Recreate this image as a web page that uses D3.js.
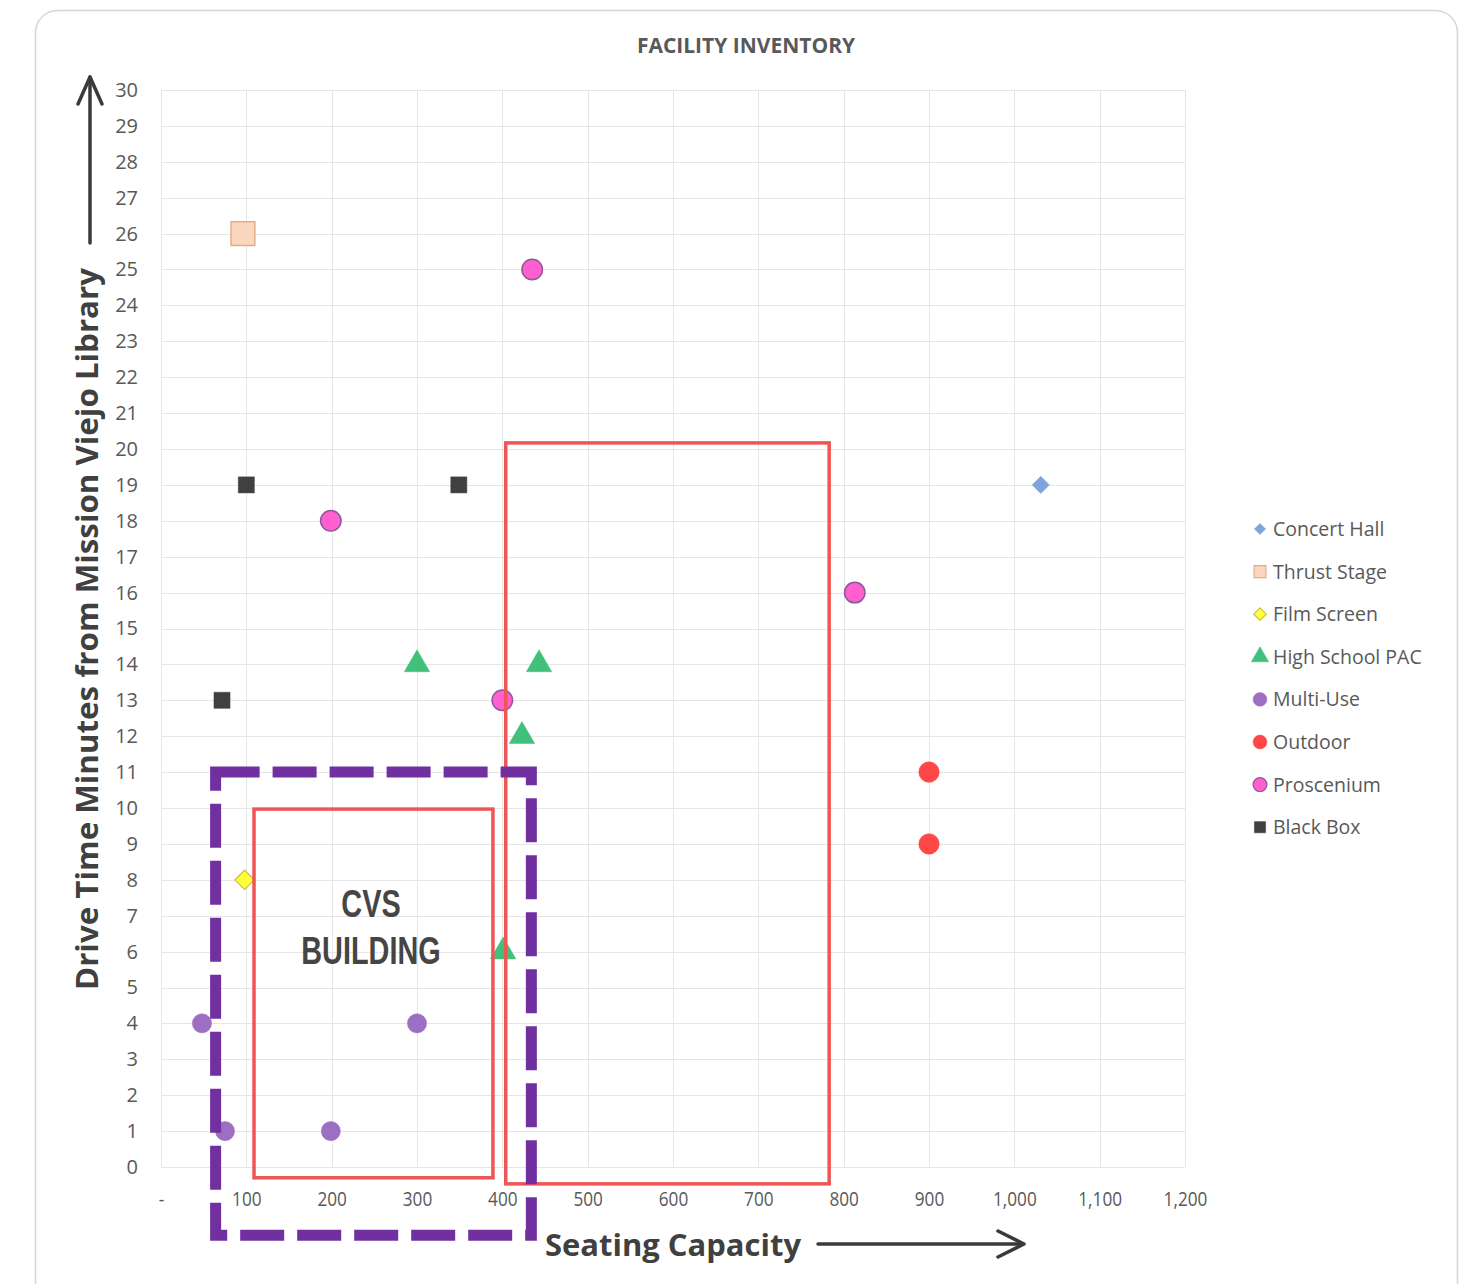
<!DOCTYPE html>
<html>
<head>
<meta charset="utf-8">
<script src="https://cdn.jsdelivr.net/npm/d3@7"></script>
<style>
  html, body { margin: 0; padding: 0; background: #fff; }
  svg { display: block; }
  text { font-family: "Open Sans", "Noto Sans", sans-serif; }
  text.zone-label { font-family: "Liberation Sans", Arial, sans-serif; }
</style>
</head>
<body>
<svg id="chart" width="1460" height="1284"></svg>
<script>
// ---- data ----
const categories = ["Concert Hall", "Thrust Stage", "Film Screen", "High School PAC",
                    "Multi-Use", "Outdoor", "Proscenium", "Black Box"];

// [seating capacity, drive minutes]
const concertHall   = [[1031, 19]];
const thrustStage   = [[96, 26]];
const filmScreen    = [[98, 8]];
const highSchoolPAC = [[300, 14], [443, 14], [423, 12], [401, 6]];
const multiUse      = [[48, 4], [75, 1], [199, 1], [300, 4]];
const outdoor       = [[900, 11], [900, 9]];
const proscenium    = [[435, 25], [199, 18], [813, 16], [400, 13]];
const blackBox      = [[100, 19], [349, 19], [71.5, 13]];

const xTicks = [0, 100, 200, 300, 400, 500, 600, 700, 800, 900, 1000, 1100, 1200];
const xTickLabels = ["-", "100", "200", "300", "400", "500", "600", "700", "800", "900", "1,000", "1,100", "1,200"];
const yTicks = d3.range(0, 31);

// highlight zones in data units: [x0, x1, y0, y1]
const zoneLarge = [404, 783, -0.47, 20.17];
const zoneSmall = [109, 389, -0.3, 9.97];
const zoneCVS   = [64, 434, -1.9, 11.0];

// ---- layout ----
const svg = d3.select("#chart");
const plot = { left: 161, right: 1185, top: 90, bottom: 1167 };

const x = d3.scaleLinear().domain([0, 1200]).range([plot.left, plot.right]);
const y = d3.scaleLinear().domain([0, 30]).range([plot.bottom, plot.top]);

const textGray = "#595959";

// outer frame
svg.append("rect")
  .attr("x", 35.5).attr("y", 10.5)
  .attr("width", 1422).attr("height", 1320)
  .attr("rx", 22)
  .attr("fill", "#fff")
  .attr("stroke", "#d6d6d6")
  .attr("stroke-width", 1.5);

// title
svg.append("text")
  .attr("x", 746).attr("y", 53)
  .attr("text-anchor", "middle")
  .attr("font-size", 21).attr("font-weight", 700)
  .attr("fill", textGray)
  .text("FACILITY INVENTORY");

// gridlines
const grid = svg.append("g").attr("stroke", "#e6e6e6").attr("stroke-width", 1);
grid.selectAll("line.h").data(yTicks).join("line")
  .attr("x1", plot.left).attr("x2", plot.right)
  .attr("y1", d => Math.round(y(d)) + 0.5).attr("y2", d => Math.round(y(d)) + 0.5);
grid.selectAll("line.v").data(xTicks).join("line")
  .attr("x1", d => Math.round(x(d)) + 0.5).attr("x2", d => Math.round(x(d)) + 0.5)
  .attr("y1", plot.top).attr("y2", plot.bottom);

// y axis labels
const yAxis = d3.axisLeft(y).tickValues(yTicks).tickSize(0).tickPadding(0);
const gy = svg.append("g").attr("transform", `translate(${plot.left - 23},0)`).call(yAxis);
gy.select(".domain").remove();
gy.selectAll("text")
  .attr("font-family", "Open Sans, sans-serif")
  .attr("font-size", 20).attr("fill", textGray);

// x axis labels, slightly condensed around each tick
const xAxis = d3.axisBottom(x).tickValues(xTicks).tickFormat((d, i) => xTickLabels[i]).tickSize(0).tickPadding(0);
const gx = svg.append("g").attr("transform", `translate(0,${plot.bottom + 39})`).call(xAxis);
gx.select(".domain").remove();
gx.selectAll("text")
  .attr("font-family", "Open Sans, sans-serif")
  .attr("font-size", 20).attr("fill", textGray)
  .attr("dy", 0).attr("x", 0)
  .attr("transform", "scale(0.86,1)");

// axis titles
svg.append("text")
  .attr("transform", `translate(98,629) rotate(-90)`)
  .attr("text-anchor", "middle")
  .attr("font-size", 31).attr("font-weight", 700)
  .attr("fill", "#404040")
  .attr("textLength", 722).attr("lengthAdjust", "spacingAndGlyphs")
  .text("Drive Time Minutes from Mission Viejo Library");

svg.append("text")
  .attr("x", 673).attr("y", 1256)
  .attr("text-anchor", "middle")
  .attr("font-size", 31).attr("font-weight", 700)
  .attr("fill", "#404040")
  .attr("textLength", 256).attr("lengthAdjust", "spacingAndGlyphs")
  .text("Seating Capacity");

// axis arrows
const arrows = svg.append("g").attr("stroke", "#3a3a3a").attr("stroke-width", 3.5)
  .attr("fill", "none").attr("stroke-linecap", "round").attr("stroke-linejoin", "round");
arrows.append("line").attr("x1", 90).attr("y1", 243).attr("x2", 90).attr("y2", 77);
arrows.append("polyline").attr("points", "78,104 90,77 102,104");
arrows.append("line").attr("x1", 818).attr("y1", 1244).attr("x2", 1023).attr("y2", 1244);
arrows.append("polyline").attr("points", "998,1231 1024,1244 998,1257");

// ---- series ----
const series = [
  { name: "Concert Hall",    data: concertHall,   shape: d3.symbolDiamond2, size: 190, fill: "#7fa3dc", stroke: "#7fa3dc", sw: 0.5 },
  { name: "Thrust Stage",    data: thrustStage,   shape: d3.symbolSquare2,  size: 720, fill: "#fbd7bf", stroke: "#e4ad87", sw: 1.5 },
  { name: "Film Screen",     data: filmScreen,    shape: d3.symbolDiamond2, size: 240, fill: "#ffff3a", stroke: "#c9c13a", sw: 1.2 },
  { name: "High School PAC", data: highSchoolPAC, shape: d3.symbolTriangle, size: 280, fill: "#41c07b", stroke: "#41c07b", sw: 0.5 },
  { name: "Multi-Use",       data: multiUse,      shape: d3.symbolCircle,   size: 290, fill: "#9d6fc2", stroke: "#9d6fc2", sw: 0.5 },
  { name: "Outdoor",         data: outdoor,       shape: d3.symbolCircle,   size: 330, fill: "#ff4747", stroke: "#ff4747", sw: 0.5 },
  { name: "Proscenium",      data: proscenium,    shape: d3.symbolCircle,   size: 330, fill: "#ff5fcf", stroke: "#8c5a98", sw: 1.5 },
  { name: "Black Box",       data: blackBox,      shape: d3.symbolSquare2,  size: 330, fill: "#404040", stroke: "#404040", sw: 0.5 }
];

const markers = svg.append("g");
series.forEach(s => {
  markers.append("g").selectAll("path").data(s.data).join("path")
    .attr("transform", d => `translate(${x(d[0])},${y(d[1])})`)
    .attr("d", d3.symbol(s.shape, s.size))
    .attr("fill", s.fill)
    .attr("stroke", s.stroke)
    .attr("stroke-width", s.sw);
});

// ---- highlight zones ----
function zoneRect(z) {
  return { x: x(z[0]), y: y(z[3]), w: x(z[1]) - x(z[0]), h: y(z[2]) - y(z[3]) };
}
[zoneLarge, zoneSmall].forEach(z => {
  const r = zoneRect(z);
  svg.append("rect")
    .attr("x", r.x).attr("y", r.y).attr("width", r.w).attr("height", r.h)
    .attr("fill", "none").attr("stroke", "#f05454").attr("stroke-width", 3.5);
});

const cvs = zoneRect(zoneCVS);
svg.append("rect")
  .attr("x", cvs.x).attr("y", cvs.y).attr("width", cvs.w).attr("height", cvs.h)
  .attr("fill", "none").attr("stroke", "#7030a0").attr("stroke-width", 11)
  .attr("stroke-dasharray", "44,13");

// zone label, condensed bold, two lines
const lbl = svg.append("g").attr("transform", "translate(371,0) scale(0.74,1)");
[["CVS", 917], ["BUILDING", 964]].forEach(([t, ty]) => {
  lbl.append("text").attr("class", "zone-label")
    .attr("x", 0).attr("y", ty)
    .attr("text-anchor", "middle").attr("font-size", 39).attr("font-weight", 700)
    .attr("fill", "#454545").text(t);
});

// ---- legend ----
const legend = svg.append("g").attr("transform", "translate(1260,529)");
const legendSizes = { "Concert Hall": 80, "Thrust Stage": 180, "Film Screen": 100, "High School PAC": 130,
                      "Multi-Use": 150, "Outdoor": 150, "Proscenium": 150, "Black Box": 160 };
categories.forEach((c, i) => {
  const s = series.find(d => d.name === c);
  const row = legend.append("g").attr("transform", `translate(0,${i * 42.6})`);
  row.append("path")
    .attr("d", d3.symbol(s.shape, legendSizes[c]))
    .attr("fill", s.fill).attr("stroke", s.stroke).attr("stroke-width", Math.min(s.sw, 1.2));
  row.append("text")
    .attr("x", 13).attr("y", 7)
    .attr("font-size", 19.5).attr("fill", textGray)
    .text(c);
});
</script>
</body>
</html>
